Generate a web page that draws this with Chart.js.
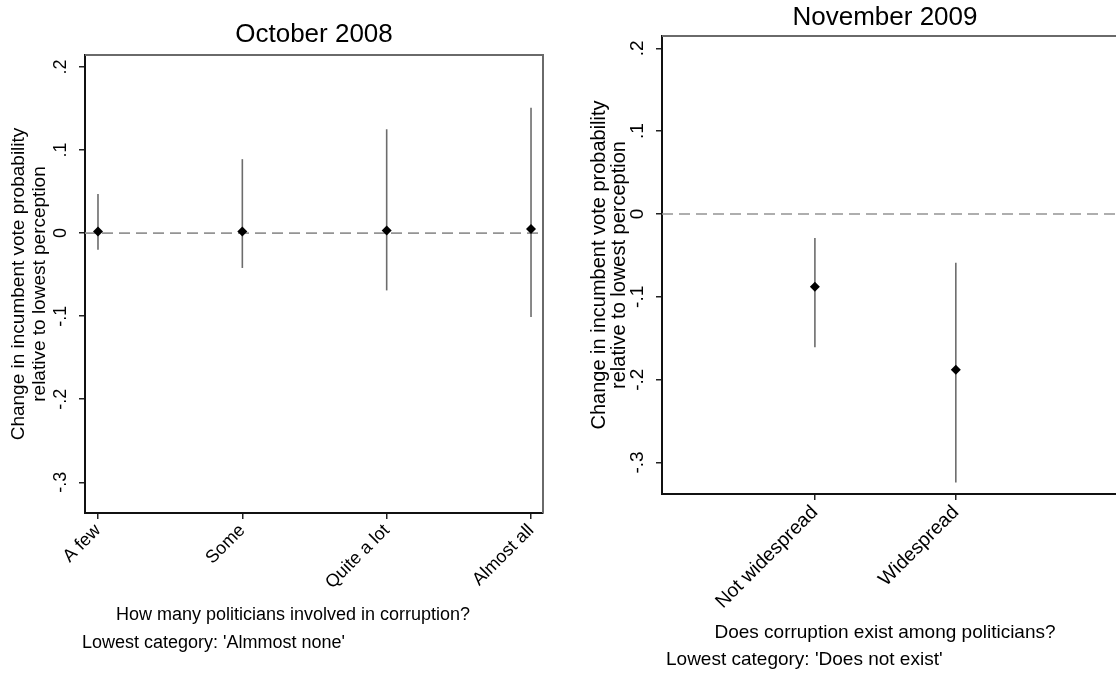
<!DOCTYPE html>
<html>
<head>
<meta charset="utf-8">
<script src="https://cdn.jsdelivr.net/npm/chart.js@4.4.0/dist/chart.umd.min.js"></script>
<style>
  html, body { margin: 0; padding: 0; background: #fff; overflow: hidden; width: 1116px; height: 675px; }
  canvas { position: absolute; top: 0; }
  #octChart { left: 0; }
  #novChart { left: 570px; }
</style>
</head>
<body>
<canvas id="octChart" width="560" height="675"></canvas>
<canvas id="novChart" width="600" height="675"></canvas>
<script>
// October 2008: effect of each perception level vs. "Almmost none"
const octCategories = ['A few', 'Some', 'Quite a lot', 'Almost all'];
const octEstimate = [0.002, 0.002, 0.003, 0.005];
const octLower = [-0.020, -0.042, -0.069, -0.101];
const octUpper = [0.047, 0.089, 0.125, 0.151];

// November 2009: effect of each perception level vs. "Does not exist"
const novCategories = ['Not widespread', 'Widespread'];
const novEstimate = [-0.088, -0.188];
const novLower = [-0.161, -0.324];
const novUpper = [-0.029, -0.059];

// shared vertical axis
const yTickValues = [-0.3, -0.2, -0.1, 0, 0.1, 0.2];
const yTickLabels = ['-.3', '-.2', '-.1', '0', '.1', '.2'];
const yTitleLines = ['Change in incumbent vote probability', 'relative to lowest perception'];

const FONT = '"Liberation Sans", Arial, sans-serif';

function makePanel(canvasId, p) {
  const canvas = document.getElementById(canvasId);
  const W = canvas.width, H = canvas.height;
  const Y_AXIS_W = 40, X_AXIS_H = 140;

  const datasets = [];
  datasets.push({
    data: p.estimate.map((v, i) => ({ x: i + 1, y: v })),
    showLine: false,
    pointStyle: 'rectRot',
    pointRadius: 5,
    pointHoverRadius: 5,
    backgroundColor: '#000',
    borderColor: '#000',
    borderWidth: 0,
    order: 0
  });
  p.categories.forEach((c, i) => {
    datasets.push({
      data: [{ x: i + 1, y: p.lower[i] }, { x: i + 1, y: p.upper[i] }],
      showLine: true,
      borderColor: '#6c6c6c',
      borderWidth: 1.6,
      pointRadius: 0,
      order: 1
    });
  });
  datasets.push({
    data: [{ x: p.xMin, y: 0 }, { x: p.xMax, y: 0 }],
    showLine: true,
    borderColor: '#949494',
    borderWidth: 1.6,
    borderDash: [11, 6],
    pointRadius: 0,
    order: 2
  });

  const decor = {
    id: 'decor',
    afterDraw(chart) {
      const ctx = chart.ctx;
      const a = chart.chartArea;
      const ys = chart.scales.y;
      ctx.save();
      // upper and right frame of the plot region
      ctx.strokeStyle = '#6a6a6a';
      ctx.lineWidth = 2;
      ctx.beginPath();
      ctx.moveTo(a.left, a.top);
      ctx.lineTo(a.right, a.top);
      ctx.lineTo(a.right, a.bottom);
      ctx.stroke();

      ctx.fillStyle = '#000';
      // vertical tick labels
      ctx.font = p.textSize + 'px ' + FONT;
      ctx.textAlign = 'center';
      ctx.textBaseline = 'middle';
      yTickValues.forEach((v, i) => {
        ctx.save();
        ctx.translate(a.left - 24, ys.getPixelForValue(v));
        ctx.rotate(-Math.PI / 2);
        ctx.fillText(yTickLabels[i], 0, 0);
        ctx.restore();
      });
      // axis title on the vertical axis
      const midY = (a.top + a.bottom) / 2;
      ctx.font = p.yTitleSize + 'px ' + FONT;
      yTitleLines.forEach((line, i) => {
        ctx.save();
        ctx.translate(a.left - (i === 0 ? p.yTitleOffsets[0] : p.yTitleOffsets[1]), midY);
        ctx.rotate(-Math.PI / 2);
        ctx.fillText(line, 0, 0);
        ctx.restore();
      });
      // panel title
      ctx.font = '26px ' + FONT;
      ctx.fillText(p.title, p.titleX, p.titleY);
      // horizontal axis title and note
      ctx.font = p.textSize + 'px ' + FONT;
      ctx.fillText(p.xTitle, p.xTitleX, p.xTitleY);
      ctx.textAlign = 'left';
      ctx.fillText(p.note, p.noteX, p.noteY);
      ctx.restore();
    }
  };

  return new Chart(canvas, {
    type: 'scatter',
    data: { datasets },
    options: {
      responsive: false,
      animation: false,
      events: [],
      layout: {
        padding: {
          left: p.area.left - Y_AXIS_W,
          top: p.area.top,
          right: W - p.area.right,
          bottom: H - p.area.bottom - X_AXIS_H
        }
      },
      plugins: { legend: { display: false }, tooltip: { enabled: false }, title: { display: false } },
      scales: {
        x: {
          type: 'linear',
          min: p.xMin,
          max: p.xMax,
          afterBuildTicks: s => { s.ticks = p.categories.map((c, i) => ({ value: i + 1 })); },
          afterFit: s => { s.height = X_AXIS_H; },
          ticks: {
            autoSkip: false,
            minRotation: 45,
            maxRotation: 45,
            padding: 1,
            color: '#000',
            font: { family: FONT, size: p.xTickSize },
            callback: (v, i) => p.categories[i]
          },
          grid: { drawOnChartArea: false, drawTicks: true, tickLength: 6, color: '#222', lineWidth: 1.5 },
          border: { display: true, color: '#111', width: 2 }
        },
        y: {
          type: 'linear',
          min: p.yMin,
          max: p.yMax,
          afterBuildTicks: s => { s.ticks = yTickValues.map(v => ({ value: v })); },
          afterFit: s => { s.width = Y_AXIS_W; },
          ticks: { display: false },
          grid: { drawOnChartArea: false, drawTicks: true, tickLength: 6, color: '#222', lineWidth: 1.5 },
          border: { display: true, color: '#111', width: 2 }
        }
      }
    },
    plugins: [decor]
  });
}

makePanel('octChart', {
  categories: octCategories, estimate: octEstimate, lower: octLower, upper: octUpper,
  xMin: 0.91, xMax: 4.083, yMin: -0.337, yMax: 0.2144,
  area: { left: 85, top: 55, right: 543, bottom: 513 },
  textSize: 18, xTickSize: 18, yTitleSize: 19, yTitleOffsets: [66, 45],
  title: 'October 2008', titleX: 314, titleY: 35,
  xTitle: 'How many politicians involved in corruption?', xTitleX: 293, xTitleY: 615,
  note: "Lowest category: 'Almmost none'", noteX: 82, noteY: 643
});

makePanel('novChart', {
  categories: novCategories, estimate: novEstimate, lower: novLower, upper: novUpper,
  xMin: -0.085, xMax: 3.165, yMin: -0.338, yMax: 0.2148,
  area: { left: 92, top: 36, right: 550, bottom: 494 },
  textSize: 19, xTickSize: 19.5, yTitleSize: 20, yTitleOffsets: [63, 43],
  title: 'November 2009', titleX: 315, titleY: 18,
  xTitle: 'Does corruption exist among politicians?', xTitleX: 315, xTitleY: 633,
  note: "Lowest category: 'Does not exist'", noteX: 96, noteY: 660
});
</script>
</body>
</html>
